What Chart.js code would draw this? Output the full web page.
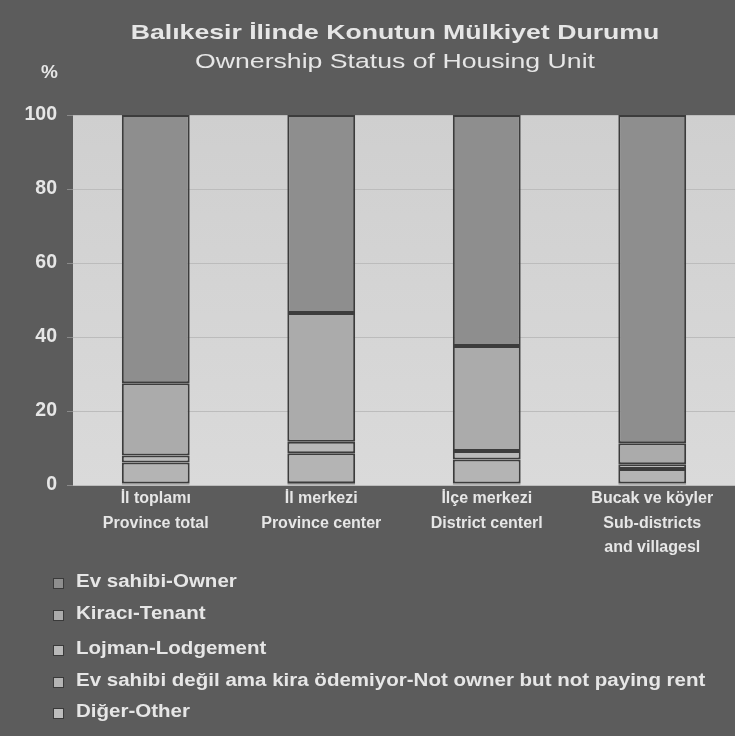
<!DOCTYPE html>
<html><head><meta charset="utf-8">
<script src="https://cdn.jsdelivr.net/npm/chart.js@4"></script>
<style>
html,body{margin:0;padding:0;background:#5c5c5c;width:735px;height:736px;overflow:hidden;font-family:"Liberation Sans",Arial,sans-serif;}
#wrap{position:absolute;left:0;top:0;width:735px;height:736px;}
.t{position:absolute;color:#e6e6e6;white-space:nowrap;}
#title{left:395px;top:20px;transform:translateX(-50%) scaleX(1.3);font-weight:bold;font-size:20.5px;}
#sub{left:395px;top:49px;transform:translateX(-50%) scaleX(1.3);font-size:20.5px;}
#pct{left:41px;top:61px;font-weight:bold;font-size:19px;}
#legend{position:absolute;left:53px;top:571px;}
.li{position:absolute;left:0;color:#e6e6e6;white-space:nowrap;height:20px;}
.li span.b{position:absolute;left:0;top:7px;width:9px;height:9px;border:1px solid #3a3a3a;}
.li span.x{position:absolute;left:23px;top:0;font-weight:bold;font-size:18px;transform:scaleX(1.14);transform-origin:0 0;}
</style></head>
<body>
<div id="wrap"><canvas id="c" width="735" height="736"></canvas></div>
<div class="t" id="title">Balıkesir İlinde Konutun Mülkiyet Durumu</div>
<div class="t" id="sub">Ownership Status of Housing Unit</div>
<div class="t" id="pct">%</div>
<div id="legend"></div>
<script>
const categories = [
  ["İl toplamı","Province total"],
  ["İl merkezi","Province center"],
  ["İlçe merkezi","District centerl"],
  ["Bucak ve köyler","Sub-districts","and villagesl"]
];
const seriesNames = ["Ev sahibi-Owner","Kiracı-Tenant","Lojman-Lodgement","Ev sahibi değil ama kira ödemiyor-Not owner but not paying rent","Diğer-Other"];
const owner      = [72.5, 53.5, 62.4, 88.7];
const tenant     = [19.5, 34.8, 28.4, 5.7];
const lodgement  = [1.9, 3.1, 2.3, 1.3];
const notPaying  = [5.7, 8.1, 6.5, 3.9];
const other      = [0.4, 0.5, 0.4, 0.4];
const yTicks = [0,20,40,60,80,100];

const colors = ["#8e8e8e","#ababab","#b9b9b9","#b4b4b4","#bdbdbd"];
const seriesData = [owner, tenant, lodgement, notPaying, other];

// stack bottom to top: other, notPaying, lodgement, tenant, owner
const order = [4,3,2,1,0];
const datasets = order.map(i => ({
  label: seriesNames[i],
  data: seriesData[i],
  backgroundColor: colors[i],
  borderColor: "#3c3c3c",
  borderWidth: 2,
  borderSkipped: false,
  barPercentage: 0.82,
  categoryPercentage: 0.5
}));

const bgPlugin = {
  id: "plotbg",
  beforeDraw(chart){
    const {ctx, chartArea:a} = chart;
    ctx.save();
    const g = ctx.createLinearGradient(0,a.top,0,a.bottom);
    g.addColorStop(0,"#cfcfcf"); g.addColorStop(1,"#dadada");
    ctx.fillStyle = g;
    ctx.fillRect(a.left,a.top,a.right-a.left,a.bottom-a.top);
    ctx.restore();
  }
};

new Chart(document.getElementById("c"), {
  type: "bar",
  data: { labels: categories, datasets },
  options: {
    responsive: false,
    animation: false,
    layout: { padding: { top: 115, left: 0, right: 0, bottom: 0 } },
    plugins: { legend: { display: false }, tooltip: { enabled: false }, title: { display: false } },
    scales: {
      x: {
        stacked: true,
        grid: { display: false },
        border: { display: false },
        ticks: { color: "#e6e6e6", font: { family: "Liberation Sans", weight: "bold", size: 16, lineHeight: 1.55 }, maxRotation: 0, autoSkip: false, padding: -7 },
        afterFit(s){ s.height = 251; }
      },
      y: {
        stacked: true,
        min: 0, max: 100,
        afterBuildTicks(s){ s.ticks = yTicks.map(v => ({value: v})); },
        grid: { color: "#bcbcbc", lineWidth: 1, drawTicks: true, tickLength: 6, tickColor: "#8a8a8a" },
        border: { display: false },
        ticks: { color: "#e6e6e6", font: { family: "Liberation Sans", weight: "bold", size: 19.5 }, padding: 10 },
        afterFit(s){ s.width = 73; }
      }
    }
  },
  plugins: [bgPlugin]
});

// HTML legend
const lg = document.getElementById("legend");
const ys = [0, 32, 67, 99, 130];
seriesNames.forEach((n,i) => {
  const d = document.createElement("div");
  d.className = "li";
  d.style.top = ys[i] + "px";
  d.innerHTML = '<span class="b" style="background:' + colors[i] + '"></span><span class="x">' + n + '</span>';
  lg.appendChild(d);
});
</script>
</body></html>
